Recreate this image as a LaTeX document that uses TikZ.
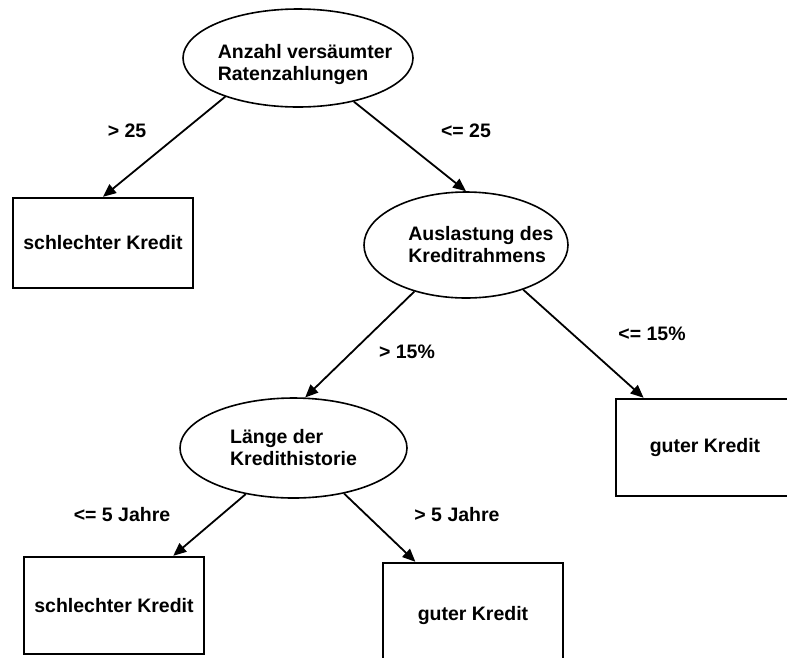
\documentclass[tikz,border=0pt]{standalone}
\usepackage{fontspec}
\setmainfont{Liberation Sans}
\usetikzlibrary{shapes.geometric,arrows.meta}

\begin{document}
\begin{tikzpicture}[x = 1pt, y = -1pt,
  font = \bfseries\fontsize{19.5}{22}\selectfont,
  frage/.style = {draw, ellipse, line width = 1.6pt, inner sep = 0pt},
  blatt/.style = {draw, rectangle, line width = 2.4pt, inner sep = 0pt, minimum width = 180pt},
  kante/.style = {line width = 1.8pt, -{Triangle[length = 13pt, width = 11pt]}}]
\useasboundingbox (0,0) rectangle (787,657);
\clip (0,0) rectangle (787,657);
\node[frage, minimum width = 230pt, minimum height = 98pt,
  label = {[align = left, xshift = 7pt, yshift = -6pt]center:{Anzahl versäumter\\Ratenzahlungen}}] (anzahl) at (298,58) {};
\node[frage, minimum width = 204pt, minimum height = 106pt,
  label = {[align = left, xshift = 15pt]center:{Auslastung des\\Kreditrahmens}}] (ausl) at (466,245) {};
\node[frage, minimum width = 227pt, minimum height = 100pt,
  label = {[align = left]center:{Länge der\\Kredithistorie}}] (laenge) at (293.5,448) {};
\node[blatt, minimum height = 90pt] (schlecht1) at (103,243) {schlechter Kredit};
\node[blatt, minimum width = 178pt, minimum height = 97pt] (gut1) at (705,447.5) {guter Kredit};
\node[blatt, minimum height = 97pt] (schlecht2) at (114,605.5) {schlechter Kredit};
\node[blatt, minimum height = 105pt] (gut2) at (473,615.5) {guter Kredit};
\node (w1) at (127,131) {> 25};
\node (w2) at (466,131) {<= 25};
\node (w3) at (407,352) {> 15\%};
\node (w4) at (652,334) {<= 15\%};
\node (w5) at (122,515) {<= 5 Jahre};
\node (w6) at (457,515) {> 5 Jahre};
\draw[kante] (anzahl.208) -- (schlecht1.north);
\draw[kante] (anzahl.322) -- (ausl.north);
\draw[kante] (ausl.222) -- (laenge.77);
\draw[kante] (ausl.322) -- (gut1.141);
\draw[kante] (laenge.224) -- (schlecht2.40);
\draw[kante] (laenge.318) -- (gut2.137);
\end{tikzpicture}
\end{document}
